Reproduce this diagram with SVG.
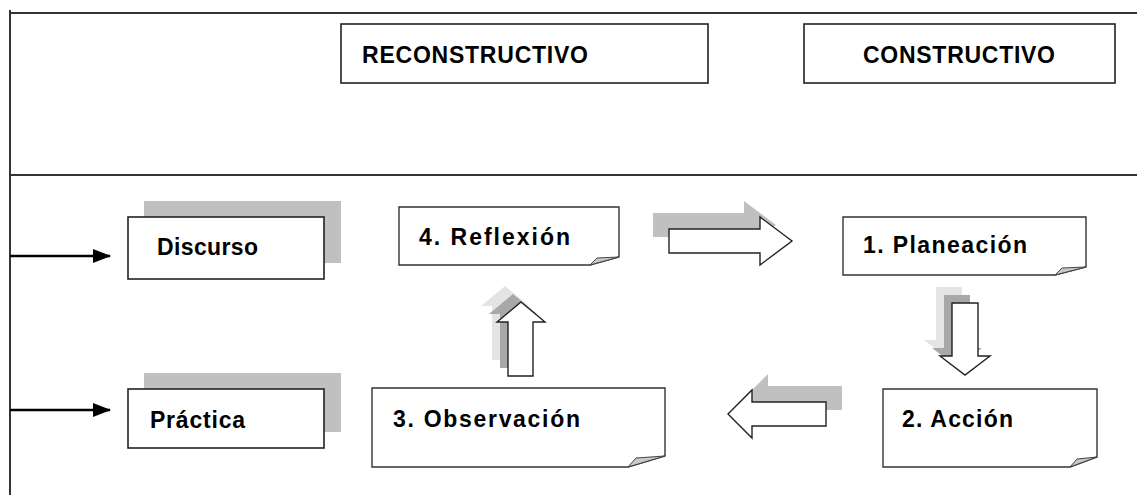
<svg xmlns="http://www.w3.org/2000/svg" width="1137" height="495" viewBox="0 0 1137 495">
<style>
.frame{stroke:#333;stroke-width:2;fill:none}
.box{fill:#fff;stroke:#222;stroke-width:1.6}
.shadow{fill:#c0c0c0}
.note{fill:#fff;stroke:#333;stroke-width:1.4}
.fold{fill:#c8c8c8;stroke:#444;stroke-width:1}
.arr{fill:#fff;stroke:#222;stroke-width:1.4}
.sh1{fill:#a8a8a8}
.sh2{fill:#e4e4e4}
.t{font-family:"Liberation Sans",Arial,sans-serif;font-weight:bold;font-size:23px;fill:#000}
.con{stroke:#000;stroke-width:2.5}
</style>
<defs>
<marker id="ah" markerWidth="18" markerHeight="14" refX="17" refY="7" orient="auto" markerUnits="userSpaceOnUse">
<path d="M0,0 L18,7 L0,14 Z" fill="#000"/>
</marker>
</defs>
<g id="frame">
<line class="frame" x1="10" y1="10" x2="10" y2="495"/>
<line class="frame" x1="10" y1="13" x2="1137" y2="13"/>
<line class="frame" x1="10" y1="175" x2="1137" y2="175"/>
</g>
<g id="reconstructivo">
<rect class="box" x="341" y="24" width="367" height="59"/>
<text class="t" x="362" y="63" textLength="226" lengthAdjust="spacing">RECONSTRUCTIVO</text>
</g>
<g id="constructivo">
<rect class="box" x="804" y="24" width="311" height="59"/>
<text class="t" x="863" y="63" textLength="192" lengthAdjust="spacing">CONSTRUCTIVO</text>
</g>
<g id="discurso">
<rect class="shadow" x="144" y="201" width="197" height="62"/>
<rect class="box" x="128" y="217" width="196" height="62"/>
<text class="t" x="157" y="255" textLength="101" lengthAdjust="spacing">Discurso</text>
</g>
<g id="practica">
<rect class="shadow" x="144" y="373" width="197" height="59"/>
<rect class="box" x="128" y="389" width="196" height="59"/>
<text class="t" x="150" y="428" textLength="95" lengthAdjust="spacing">Práctica</text>
</g>
<g id="reflexion">
<path class="note" d="M399,207 H619 V257 L590,265 H399 Z"/>
<path class="fold" d="M590,265 L597,258 L619,257 Z"/>
<text class="t" x="419" y="245" textLength="151" lengthAdjust="spacing">4.  Reflexión</text>
</g>
<g id="planeacion">
<path class="note" d="M843,217 H1086 V267 L1055,275 H843 Z"/>
<path class="fold" d="M1055,275 L1062,268 L1086,267 Z"/>
<text class="t" x="863" y="253" textLength="164" lengthAdjust="spacing">1. Planeación</text>
</g>
<g id="accion">
<path class="note" d="M883,389 H1097 V457 L1070,467 H883 Z"/>
<path class="fold" d="M1070,467 L1077,459 L1097,457 Z"/>
<text class="t" x="902" y="427" textLength="111" lengthAdjust="spacing">2. Acción</text>
</g>
<g id="observacion">
<path class="note" d="M372,388 H665 V456 L628,467 H372 Z"/>
<path class="fold" d="M628,467 L636,458 L665,456 Z"/>
<text class="t" x="393" y="427" textLength="187" lengthAdjust="spacing">3.  Observación</text>
</g>
<g id="connectors">
<line class="con" x1="10" y1="256" x2="110" y2="256" marker-end="url(#ah)"/>
<line class="con" x1="10" y1="410" x2="110" y2="410" marker-end="url(#ah)"/>
<g id="arrow-right">
<polygon class="shadow" transform="translate(-16,-16)" points="669,229 760,229 760,217 792,241 760,265 760,253 669,253"/>
<polygon class="arr" points="669,229 760,229 760,217 792,241 760,265 760,253 669,253"/>
</g>
<g id="arrow-down">
<polygon class="sh2" transform="translate(-16,-16)" points="952,303 978,303 978,356 990,356 965,375 940,356 952,356"/>
<polygon class="sh1" transform="translate(-8,-8)" points="952,303 978,303 978,356 990,356 965,375 940,356 952,356"/>
<polygon class="arr" points="952,303 978,303 978,356 990,356 965,375 940,356 952,356"/>
</g>
<g id="arrow-left">
<polygon class="shadow" transform="translate(16,-16)" points="728,414 752,390 752,402 826,402 826,426 752,426 752,438"/>
<polygon class="arr" points="728,414 752,390 752,402 826,402 826,426 752,426 752,438"/>
</g>
<g id="arrow-up">
<polygon class="sh2" transform="translate(-16,-16)" points="521,302 545,322 533,322 533,376 508,376 508,322 497,322"/>
<polygon class="sh1" transform="translate(-8,-8)" points="521,302 545,322 533,322 533,376 508,376 508,322 497,322"/>
<polygon class="arr" points="521,302 545,322 533,322 533,376 508,376 508,322 497,322"/>
</g>
</g>
</svg>
